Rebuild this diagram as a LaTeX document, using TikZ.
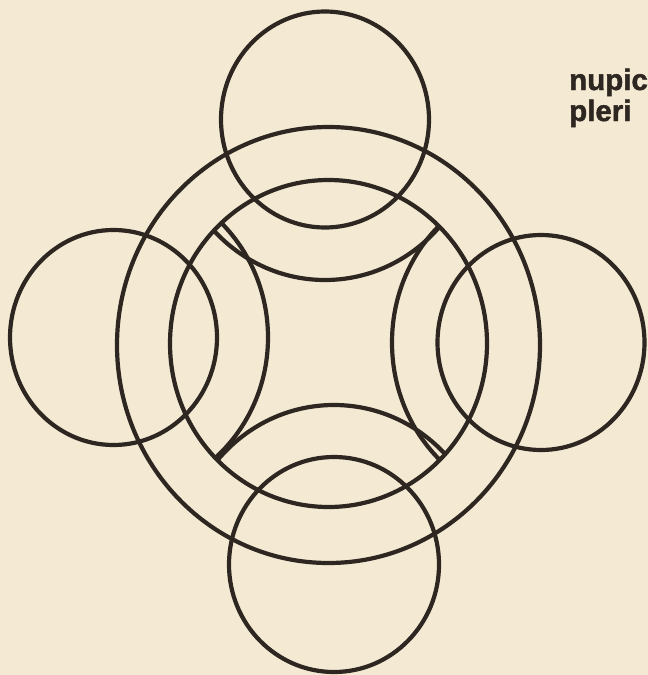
\documentclass[tikz,border=0pt]{standalone}
\usepackage{fontspec}
\setmainfont{Liberation Sans}
\newfontfamily\heavyfont[BoldFeatures={FakeBold=1.6}]{Liberation Sans}
\definecolor{paper}{HTML}{F4EAD3}
\definecolor{ink}{HTML}{2E2620}
\begin{document}
\begin{tikzpicture}[x=1pt,y=-1pt,
  ring/.style={draw=ink,line width=4.2pt},
  lbl/.style={anchor=base west,inner sep=0pt,text=ink,font=\heavyfont\bfseries\fontsize{29.5}{29.5}\selectfont}]
\fill[paper] (0,0) rectangle (648,675);
\useasboundingbox (0,0) rectangle (648,675);
\clip (0,0) rectangle (648,675);
% big rings
\draw[ring] (328.5,345) ellipse [x radius=211.5, y radius=218];
\draw[ring] (328.5,343.5) ellipse [x radius=158.5, y radius=163.5];
% four small circles
\draw[ring] (325,119.5) ellipse [x radius=104, y radius=108];
\draw[ring] (334,564.5) ellipse [x radius=105, y radius=107.5];
\draw[ring] (113.5,337.5) ellipse [x radius=103.5, y radius=107.5];
\draw[ring] (541,342.5) ellipse [x radius=103.5, y radius=107.5];
% inner star arcs
\begin{scope}
  \clip (328.5,343.5) ellipse [x radius=158.5, y radius=163.5];
  \draw[ring] (325,119.5) ellipse [x radius=154, y radius=160.5];
  \draw[ring] (334,564.5) ellipse [x radius=154, y radius=159.5];
  \draw[ring] (113.5,337.5) ellipse [x radius=154.5, y radius=160];
  \draw[ring] (541,342.5) ellipse [x radius=149, y radius=160];
\end{scope}
\node[lbl] (l1) at (569,90) {nupic};
\node[lbl] (l2) at (569,121) {pleri};
\end{tikzpicture}
\end{document}
